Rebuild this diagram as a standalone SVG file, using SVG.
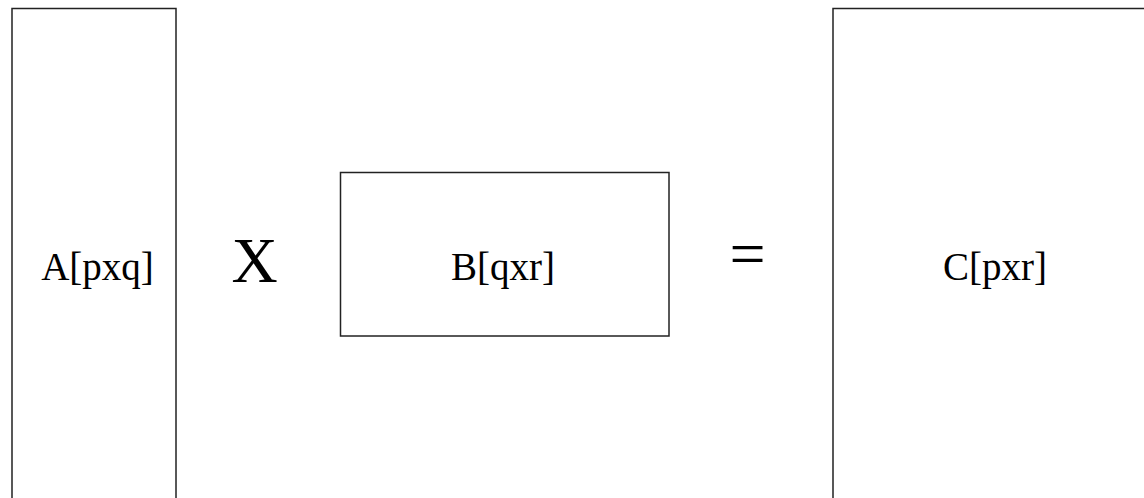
<svg xmlns="http://www.w3.org/2000/svg" width="1144" height="498" viewBox="0 0 1144 498">
  <style>
    .box { fill: #ffffff; stroke: #222222; stroke-width: 1.5; }
    .lbl { font-family: "Liberation Serif", "Times New Roman", serif; font-size: 39px; fill: #000; text-anchor: middle; }
    .op { font-family: "Liberation Serif", "Times New Roman", serif; font-size: 64px; fill: #000; text-anchor: middle; }
  </style>
  <rect width="1144" height="498" fill="#ffffff"/>

  <!-- matrix A -->
  <g id="matrix-a">
    <rect class="box" x="12" y="8.5" width="164" height="520"/>
    <text class="lbl" x="97.5" y="280">A[pxq]</text>
  </g>

  <!-- multiplication sign -->
  <g id="op-times">
    <text class="op" x="254.5" y="282" font-size="65">X</text>
  </g>

  <!-- matrix B -->
  <g id="matrix-b">
    <rect class="box" x="340.5" y="172.5" width="328.5" height="163.5"/>
    <text class="lbl" x="503" y="280">B[qxr]</text>
  </g>

  <!-- equals sign -->
  <g id="op-equals">
    <text class="op" x="747.5" y="275">=</text>
  </g>

  <!-- matrix C -->
  <g id="matrix-c">
    <rect class="box" x="833" y="8.5" width="330" height="520"/>
    <text class="lbl" x="995" y="280">C[pxr]</text>
  </g>

  <g id="connectors"/>
</svg>
